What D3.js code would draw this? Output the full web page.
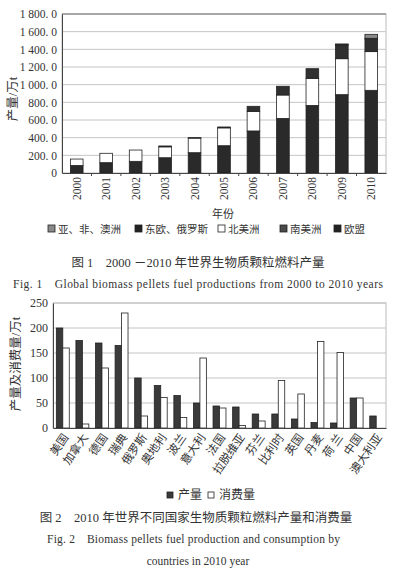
<!DOCTYPE html>
<html>
<head>
<meta charset="utf-8">
<script src="https://cdn.jsdelivr.net/npm/d3@7"></script>
<style>
  body { margin: 0; background: #fff; }
  svg { display: block; }
  text { font-family: "Liberation Serif", "Noto Sans CJK SC", serif; fill: #333; }
</style>
</head>
<body>
<div id="chart"></div>
<script>
// ---- Fig 1 data (万t) ----
var years = ["2000", "2001", "2002", "2003", "2004", "2005", "2006", "2007", "2008", "2009", "2010"];
var euValues = [85, 117, 132, 173, 230, 309, 476, 618, 765, 887, 936];
var naValues = [73, 106, 128, 123, 165, 202, 222, 265, 307, 407, 438];
var eeValues = [0, 0, 0, 10, 5, 10, 57, 99, 109, 157, 141];
var saValues = [0, 0, 0, 0, 0, 0, 0, 0, 0, 5, 10];
var asiaValues = [0, 0, 0, 0, 0, 0, 0, 0, 0, 5, 45];
var yTicks1 = [0, 200, 400, 600, 800, 1000, 1200, 1400, 1600, 1800];
var yTickLabels1 = ["0", "200. 0", "400. 0", "600. 0", "800. 0", "1 000. 0", "1 200. 0", "1 400. 0", "1 600. 0", "1 800. 0"];
var legend1 = ["亚、非、澳洲", "东欧、俄罗斯", "北美洲", "南美洲", "欧盟"];

// ---- Fig 2 data (万t) ----
var countries = ["美国", "加拿大", "德国", "瑞典", "俄罗斯", "奥地利", "波兰", "意大利", "法国", "拉脱维亚", "芬兰", "比利时", "英国", "丹麦", "荷 兰", "中国", "澳大利亚"];
var production = [200, 175, 170, 165, 100, 85, 65, 50, 44, 42, 28, 28, 18, 11, 10, 60, 24];
var consumption = [160, 8, 120, 230, 24, 61, 21, 140, 40, 5, 14, 95, 68, 173, 151, 60, 0];
var yTicks2 = [0, 50, 100, 150, 200, 250];
var legend2 = ["产量", "消费量"];

var W = 397, H = 573;
var svg = d3.select("#chart").append("svg")
    .attr("width", W)
    .attr("height", H);

// ================= Fig 1 =================
var m1 = {left: 62, right: 386, top: 14, bottom: 173};

var x1 = d3.scaleBand().domain(years).range([m1.left, m1.right])
    .paddingInner(0.57).paddingOuter(0.285);
var y1 = d3.scaleLinear().domain([0, 1800]).range([m1.bottom, m1.top]);

var rows = years.map(function (yr, i) {
    return {year: yr, eu: euValues[i], na: naValues[i], ee: eeValues[i], sa: saValues[i], asia: asiaValues[i]};
});
var keys = ["eu", "na", "ee", "sa", "asia"];
var fills = {eu: "#2a2a2a", na: "#ffffff", ee: "#303030", sa: "#4a4a4a", asia: "#8a8a8a"};
var series = d3.stack().keys(keys)(rows);

svg.append("rect")
    .attr("x", m1.left).attr("y", m1.top)
    .attr("width", m1.right - m1.left).attr("height", m1.bottom - m1.top)
    .attr("fill", "#fff").attr("stroke", "#bbb");

// grid
svg.append("g").selectAll("line")
    .data(yTicks1.slice(1))
    .join("line")
    .attr("x1", m1.left).attr("x2", m1.right)
    .attr("y1", function (d) { return y1(d); })
    .attr("y2", function (d) { return y1(d); })
    .attr("stroke", "#c4c4c4");
svg.append("line")
    .attr("x1", m1.left).attr("x2", m1.right)
    .attr("y1", m1.top).attr("y2", m1.top)
    .attr("stroke", "#999").attr("stroke-width", 1.5);

// bars
svg.append("g").selectAll("g")
    .data(series)
    .join("g")
    .attr("fill", function (d) { return fills[d.key]; })
    .selectAll("rect")
    .data(function (d) { return d.filter(function (p) { return p[1] - p[0] > 0; }); })
    .join("rect")
    .attr("x", function (d) { return x1(d.data.year); })
    .attr("y", function (d) { return y1(d[1]); })
    .attr("width", x1.bandwidth())
    .attr("height", function (d) { return y1(d[0]) - y1(d[1]); })
    .attr("stroke", "#222").attr("stroke-width", 0.8);

// y axis
var ay1 = svg.append("g")
    .attr("transform", "translate(" + m1.left + ",0)")
    .call(d3.axisLeft(y1).tickValues(yTicks1).tickSize(0).tickPadding(5)
        .tickFormat(function (d, i) { return yTickLabels1[i]; }));
ay1.select(".domain").attr("stroke", "#444");
ay1.selectAll("text").attr("font-size", 11.5).attr("fill", "#444")
    .attr("font-family", "Liberation Serif, serif");

// x axis
var ax1 = svg.append("g")
    .attr("transform", "translate(0," + m1.bottom + ")")
    .call(d3.axisBottom(x1).tickSize(0).tickPadding(4));
ax1.select(".domain").attr("stroke", "#444");
ax1.selectAll("text")
    .attr("font-size", 11.5).attr("fill", "#555")
    .attr("transform", "rotate(-90)")
    .attr("text-anchor", "end")
    .attr("x", -4).attr("y", 0).attr("dy", "0.35em");
ax1.selectAll(".sep").data(years.slice(1))
    .join("line").attr("class", "sep")
    .attr("x1", function (d) { return x1(d) - x1.step() * x1.paddingInner() / 2; })
    .attr("x2", function (d) { return x1(d) - x1.step() * x1.paddingInner() / 2; })
    .attr("y1", 0).attr("y2", 3).attr("stroke", "#444");

svg.append("text")
    .attr("transform", "translate(17,99) rotate(-90)")
    .attr("text-anchor", "middle")
    .attr("font-size", 12.5)
    .text("产量/万t");

svg.append("text")
    .attr("x", 223).attr("y", 218)
    .attr("text-anchor", "middle").attr("font-size", 11)
    .text("年份");

// legend 1
var leg1Colors = ["#8a8a8a", "#222", "#fff", "#4a4a4a", "#222"];
var leg1X = [48, 135, 218, 280, 334];
var lg1 = svg.append("g").selectAll("g")
    .data(legend1)
    .join("g")
    .attr("transform", function (d, i) { return "translate(" + leg1X[i] + ",229)"; });
lg1.append("rect")
    .attr("x", 0).attr("y", -4).attr("width", 7).attr("height", 7)
    .attr("fill", function (d, i) { return leg1Colors[i]; })
    .attr("stroke", "#222").attr("stroke-width", 0.8);
lg1.append("text")
    .attr("x", 10).attr("y", 4)
    .attr("font-size", 10.5)
    .text(function (d) { return d; });

svg.append("text")
    .attr("x", 198).attr("y", 267)
    .attr("text-anchor", "middle").attr("font-size", 12.5)
    .text("图 1　2000 －2010 年世界生物质颗粒燃料产量");
svg.append("text")
    .attr("x", 13).attr("y", 288)
    .attr("font-size", 11.5)
    .attr("textLength", 370).attr("lengthAdjust", "spacing")
    .text("Fig. 1　Global biomass pellets fuel productions from 2000 to 2010 years");

// ================= Fig 2 =================
var m2 = {left: 53, right: 386, top: 303, bottom: 428};

var x2 = d3.scaleBand().domain(countries).range([m2.left, m2.right])
    .paddingInner(0.34).paddingOuter(0.17);
var xs = d3.scaleBand().domain(["p", "c"]).range([0, x2.bandwidth()]);
var y2 = d3.scaleLinear().domain([0, 250]).range([m2.bottom, m2.top]);

svg.append("rect")
    .attr("x", m2.left).attr("y", m2.top)
    .attr("width", m2.right - m2.left).attr("height", m2.bottom - m2.top)
    .attr("fill", "#fff").attr("stroke", "#bbb");

svg.append("g").selectAll("line")
    .data(yTicks2.slice(1))
    .join("line")
    .attr("x1", m2.left).attr("x2", m2.right)
    .attr("y1", function (d) { return y2(d); })
    .attr("y2", function (d) { return y2(d); })
    .attr("stroke", "#c4c4c4");

var groups = svg.append("g").selectAll("g")
    .data(countries)
    .join("g")
    .attr("transform", function (d) { return "translate(" + x2(d) + ",0)"; });
groups.append("rect")
    .attr("x", xs("p"))
    .attr("y", function (d, i) { return y2(production[i]); })
    .attr("width", xs.bandwidth())
    .attr("height", function (d, i) { return y2(0) - y2(production[i]); })
    .attr("fill", "#3a3a3a").attr("stroke", "#222").attr("stroke-width", 0.8);
groups.filter(function (d, i) { return consumption[i] > 0; })
    .append("rect")
    .attr("x", xs("c"))
    .attr("y", function (d) { return y2(consumption[countries.indexOf(d)]); })
    .attr("width", xs.bandwidth())
    .attr("height", function (d) { return y2(0) - y2(consumption[countries.indexOf(d)]); })
    .attr("fill", "#fff").attr("stroke", "#222").attr("stroke-width", 0.8);

var ay2 = svg.append("g")
    .attr("transform", "translate(" + m2.left + ",0)")
    .call(d3.axisLeft(y2).tickValues(yTicks2).tickSize(0).tickPadding(5));
ay2.select(".domain").attr("stroke", "#444");
ay2.selectAll("text").attr("font-size", 12).attr("fill", "#444")
    .attr("font-family", "Liberation Serif, serif");

var ax2 = svg.append("g")
    .attr("transform", "translate(0," + m2.bottom + ")")
    .call(d3.axisBottom(x2).tickSize(0).tickPadding(4));
ax2.select(".domain").attr("stroke", "#444");
ax2.selectAll("text")
    .attr("font-size", 11.5).attr("fill", "#444")
    .attr("font-family", "Noto Sans CJK SC, sans-serif")
    .attr("text-anchor", "end")
    .attr("y", 0).attr("x", 0).attr("dy", "0.35em")
    .attr("transform", "translate(3,7) rotate(-55)");

svg.append("text")
    .attr("transform", "translate(20,364) rotate(-90)")
    .attr("text-anchor", "middle")
    .attr("font-size", 12.5)
    .text("产量及消费量/万t");

// legend 2
var leg2X = [167, 208];
var lg2 = svg.append("g").selectAll("g")
    .data(legend2)
    .join("g")
    .attr("transform", function (d, i) { return "translate(" + leg2X[i] + ",495)"; });
lg2.append("rect")
    .attr("x", 0).attr("y", -3).attr("width", 6).attr("height", 6)
    .attr("fill", function (d, i) { return i === 0 ? "#3a3a3a" : "#fff"; })
    .attr("stroke", "#222").attr("stroke-width", 0.8);
lg2.append("text")
    .attr("x", 11).attr("y", 4)
    .attr("font-size", 12)
    .text(function (d) { return d; });

svg.append("text")
    .attr("x", 196).attr("y", 522)
    .attr("text-anchor", "middle").attr("font-size", 12.5)
    .text("图 2　2010 年世界不同国家生物质颗粒燃料产量和消费量");
svg.append("text")
    .attr("x", 47).attr("y", 543)
    .attr("font-size", 11.5)
    .attr("textLength", 293).attr("lengthAdjust", "spacing")
    .text("Fig. 2　Biomass pellets fuel production and consumption by");
svg.append("text")
    .attr("x", 198).attr("y", 565)
    .attr("text-anchor", "middle").attr("font-size", 11.5)
    .text("countries in 2010 year");
</script>
</body>
</html>
